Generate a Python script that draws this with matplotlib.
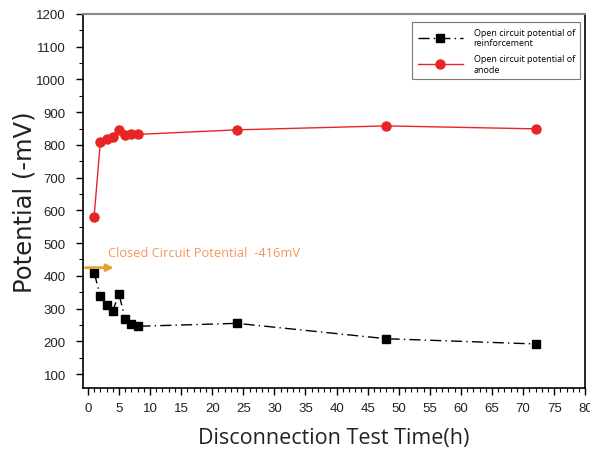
import matplotlib
matplotlib.use("Agg")
import matplotlib.pyplot as plt
from matplotlib.ticker import MultipleLocator

time_h = [1, 2, 3, 4, 5, 6, 7, 8, 24, 48, 72]
reinforcement = [410, 339, 312, 293, 345, 267, 254, 246, 255, 208, 192]
anode = [581, 808, 818, 823, 846, 829, 834, 832, 846, 858, 849]
labels = ["Open circuit potential of\nreinforcement", "Open circuit potential of\nanode"]
ccp_value = 425
ccp_text = "Closed Circuit Potential  -416mV"

fig = plt.figure(figsize=(5.9, 4.52), dpi=100)
ax = fig.add_axes([0.140, 0.139, 0.852, 0.828])

ax.plot(time_h, reinforcement, color="black", linestyle=(0, (8, 3, 1, 3)), linewidth=1,
        marker="s", markersize=6, label=labels[0])
ax.plot(time_h, anode, color="#e82525", linestyle="-", linewidth=1,
        marker="o", markersize=6.5, label=labels[1])

ax.annotate("", xy=(4.6, ccp_value), xytext=(-0.85, ccp_value),
            arrowprops=dict(arrowstyle="-|>", color="#e8a030", lw=2, mutation_scale=10))
ax.text(3.2, 470, ccp_text, color="#f4955a", fontsize=9.3, family="Open Sans", va="center")

ax.set_xlim(-0.85, 80)
ax.set_ylim(57, 1200)
ax.xaxis.set_major_locator(MultipleLocator(5))
ax.xaxis.set_minor_locator(MultipleLocator(1))
ax.yaxis.set_minor_locator(MultipleLocator(50))
ax.set_yticks(range(100, 1201, 100))
ax.tick_params(which="major", direction="out", length=5, width=1, labelsize=9.5)
ax.tick_params(axis="y", which="major", pad=7)
ax.tick_params(axis="x", which="major", pad=5)
ax.tick_params(which="minor", direction="out", length=3, width=0.8)
for lab in ax.get_xticklabels() + ax.get_yticklabels():
    lab.set_family("Liberation Sans")
    lab.set_color("#222222")
for s in ["left", "bottom", "right"]:
    ax.spines[s].set_linewidth(1.2)
ax.spines["top"].set_color("#888888")
ax.spines["top"].set_linewidth(1.5)

ax.set_xlabel("Disconnection Test Time(h)", fontsize=15.5, family="Open Sans", color="#222222", labelpad=9)
ax.set_ylabel("Potential (-mV)", fontsize=17.5, family="DejaVu Sans", color="#222222", labelpad=0)

leg = ax.legend(loc="upper right", bbox_to_anchor=(0.999, 0.99), prop={"family": "Open Sans", "size": 6.5},
                handlelength=5, frameon=True, fancybox=False, edgecolor="#555555",
                borderpad=0.6, labelspacing=0.8, handletextpad=1.2)
leg.get_frame().set_linewidth(0.8)

fig.savefig("out.png", dpi=100)
